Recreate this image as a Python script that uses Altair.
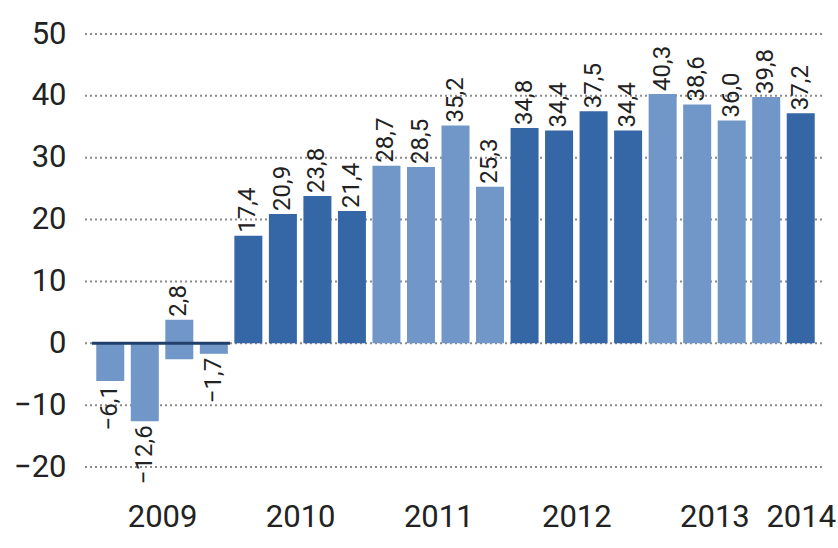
import altair as alt
import pandas as pd

# Data
quarters = ["2009 Q1", "2009 Q2", "2009 Q3", "2009 Q4",
            "2010 Q1", "2010 Q2", "2010 Q3", "2010 Q4",
            "2011 Q1", "2011 Q2", "2011 Q3", "2011 Q4",
            "2012 Q1", "2012 Q2", "2012 Q3", "2012 Q4",
            "2013 Q1", "2013 Q2", "2013 Q3", "2013 Q4",
            "2014 Q1"]
years = [2009] * 4 + [2010] * 4 + [2011] * 4 + [2012] * 4 + [2013] * 4 + [2014]
values = [-6.1, -12.6, 2.8, -1.7,
          17.4, 20.9, 23.8, 21.4,
          28.7, 28.5, 35.2, 25.3,
          34.8, 34.4, 37.5, 34.4,
          40.3, 38.6, 36.0, 39.8,
          37.2]
# drawn extent of each bar (the third 2009 bar spans both sides of zero)
bar_top = [0, 0, 3.8, 0] + values[4:]
bar_bottom = [-6.1, -12.6, -2.6, -1.7] + [0] * 17
labels = ["\u2212" + f"{abs(v):.1f}".replace(".", ",") if v < 0 else f"{v:.1f}".replace(".", ",") for v in values]

year_ticks = [1.5, 5.5, 9.5, 13.5, 17.5, 20]
year_labels = ["2009", "2010", "2011", "2012", "2013", "2014"]
y_ticks = [-20, -10, 0, 10, 20, 30, 40, 50]

light = "#7097c8"
dark = "#3566a6"

df = pd.DataFrame({
    "idx": list(range(len(values))),
    "quarter": quarters,
    "year": [str(y) for y in years],
    "value": values,
    "top": bar_top,
    "bottom": bar_bottom,
    "label": labels,
})
df["anchor_pos"] = df["top"]
df["anchor_neg"] = df["bottom"]

label_map = "{" + ",".join(f"'{t}':'{l}'" for t, l in zip(year_ticks, year_labels)) + "}"

FONT = "Roboto"

x = alt.X("idx:Q",
          scale=alt.Scale(domain=[-0.5, 20.5], nice=False, zero=False),
          axis=alt.Axis(values=year_ticks, labelExpr=f"{label_map}[toString(datum.value)]",
                        title=None, grid=False, domain=False, ticks=False,
                        labelFont=FONT, labelFontSize=31, labelColor="#222222",
                        labelPadding=35, labelFlush=False))
y_scale = alt.Scale(domain=[-20, 50], nice=False, zero=False)

base = alt.Chart(df)

grid = alt.Chart(pd.DataFrame({"t": y_ticks})).mark_rule(
    color="#8a8a8a", strokeWidth=2, strokeDash=[2, 3]
).encode(
    y=alt.Y("t:Q", scale=y_scale,
            axis=alt.Axis(values=y_ticks, title=None, grid=False, domain=False, ticks=False,
                          labelFont=FONT, labelFontSize=31, labelColor="#222222",
                          labelPadding=22,
                          labelExpr="datum.value < 0 ? '\u2212' + abs(datum.value) : datum.value")),
    x=alt.value(-3), x2=alt.value(735)
)

bars = base.mark_bar(size=28).encode(
    x=x,
    y=alt.Y("top:Q", scale=y_scale),
    y2="bottom:Q",
    color=alt.Color("year:N",
                    scale=alt.Scale(domain=["2009", "2010", "2011", "2012", "2013", "2014"],
                                    range=[light, dark, light, dark, light, dark]),
                    legend=None),
)

zero = alt.Chart(pd.DataFrame({"z": [0]})).mark_rule(color="#22406c", strokeWidth=3).encode(
    y=alt.Y("z:Q", scale=y_scale), x=alt.value(4), x2=alt.value(142)
)

pos_text = base.transform_filter("datum.value >= 0").mark_text(
    angle=270, align="left", baseline="middle", dx=3, font=FONT, fontSize=24, color="#222222"
).encode(x=x, y=alt.Y("anchor_pos:Q", scale=y_scale), text="label:N")

neg_text = base.transform_filter("datum.value < 0").mark_text(
    angle=270, align="right", baseline="middle", dx=-4, font=FONT, fontSize=24, color="#222222"
).encode(x=x, y=alt.Y("anchor_neg:Q", scale=y_scale), text="label:N")

chart = alt.layer(grid, bars, zero, pos_text, neg_text).properties(
    width=735, height=433,
    autosize=alt.AutoSizeParams(type="none"),
    padding={"left": 88, "top": 34, "right": 15, "bottom": 81},
    background="white",
).configure_view(stroke=None)

chart.save("out.html", embed_options={"renderer": "svg", "actions": False})
